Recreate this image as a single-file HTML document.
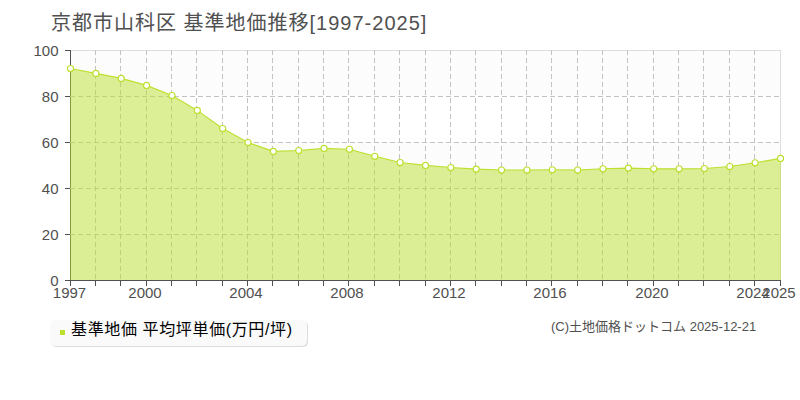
<!DOCTYPE html>
<html lang="ja">
<head>
<meta charset="utf-8">
<title>京都市山科区 基準地価推移[1997-2025]</title>
<style>
html,body{margin:0;padding:0;background:#fff;}
body{width:800px;height:400px;overflow:hidden;font-family:"Liberation Sans",sans-serif;}
svg{display:block;}
</style>
</head>
<body>
<svg width="800" height="400" viewBox="0 0 800 400">
<rect x="0" y="0" width="800" height="400" fill="#fff"/>
<rect x="71" y="50" width="709" height="46" fill="#fcfcfc"/>
<rect x="71" y="142" width="709" height="46" fill="#fcfcfc"/>
<rect x="71" y="234" width="709" height="46" fill="#fcfcfc"/>
<rect x="70.5" y="50.5" width="710" height="230" fill="none" stroke="#dddddd"/>
<g stroke="#505050" stroke-width="1" shape-rendering="crispEdges">
<line x1="70.5" y1="50" x2="70.5" y2="281"/>
<line x1="70" y1="280.5" x2="781" y2="280.5"/>
<line x1="65" y1="280.5" x2="70" y2="280.5"/>
<line x1="65" y1="234.5" x2="70" y2="234.5"/>
<line x1="65" y1="188.5" x2="70" y2="188.5"/>
<line x1="65" y1="142.5" x2="70" y2="142.5"/>
<line x1="65" y1="96.5" x2="70" y2="96.5"/>
<line x1="65" y1="50.5" x2="70" y2="50.5"/>
<line x1="70.5" y1="280" x2="70.5" y2="286"/>
<line x1="95.5" y1="280" x2="95.5" y2="286"/>
<line x1="120.5" y1="280" x2="120.5" y2="286"/>
<line x1="146.5" y1="280" x2="146.5" y2="286"/>
<line x1="171.5" y1="280" x2="171.5" y2="286"/>
<line x1="196.5" y1="280" x2="196.5" y2="286"/>
<line x1="222.5" y1="280" x2="222.5" y2="286"/>
<line x1="247.5" y1="280" x2="247.5" y2="286"/>
<line x1="272.5" y1="280" x2="272.5" y2="286"/>
<line x1="298.5" y1="280" x2="298.5" y2="286"/>
<line x1="323.5" y1="280" x2="323.5" y2="286"/>
<line x1="348.5" y1="280" x2="348.5" y2="286"/>
<line x1="374.5" y1="280" x2="374.5" y2="286"/>
<line x1="399.5" y1="280" x2="399.5" y2="286"/>
<line x1="425.5" y1="280" x2="425.5" y2="286"/>
<line x1="450.5" y1="280" x2="450.5" y2="286"/>
<line x1="475.5" y1="280" x2="475.5" y2="286"/>
<line x1="501.5" y1="280" x2="501.5" y2="286"/>
<line x1="526.5" y1="280" x2="526.5" y2="286"/>
<line x1="551.5" y1="280" x2="551.5" y2="286"/>
<line x1="577.5" y1="280" x2="577.5" y2="286"/>
<line x1="602.5" y1="280" x2="602.5" y2="286"/>
<line x1="627.5" y1="280" x2="627.5" y2="286"/>
<line x1="653.5" y1="280" x2="653.5" y2="286"/>
<line x1="678.5" y1="280" x2="678.5" y2="286"/>
<line x1="703.5" y1="280" x2="703.5" y2="286"/>
<line x1="729.5" y1="280" x2="729.5" y2="286"/>
<line x1="754.5" y1="280" x2="754.5" y2="286"/>
<line x1="780.5" y1="280" x2="780.5" y2="286"/>
</g>
<g stroke="#c2c2c2" stroke-width="1" stroke-dasharray="5 3" shape-rendering="crispEdges">
<line x1="70" y1="234.5" x2="780" y2="234.5"/>
<line x1="70" y1="188.5" x2="780" y2="188.5"/>
<line x1="70" y1="142.5" x2="780" y2="142.5"/>
<line x1="70" y1="96.5" x2="780" y2="96.5"/>
<line x1="95.5" y1="50" x2="95.5" y2="280"/>
<line x1="120.5" y1="50" x2="120.5" y2="280"/>
<line x1="146.5" y1="50" x2="146.5" y2="280"/>
<line x1="171.5" y1="50" x2="171.5" y2="280"/>
<line x1="196.5" y1="50" x2="196.5" y2="280"/>
<line x1="222.5" y1="50" x2="222.5" y2="280"/>
<line x1="247.5" y1="50" x2="247.5" y2="280"/>
<line x1="272.5" y1="50" x2="272.5" y2="280"/>
<line x1="298.5" y1="50" x2="298.5" y2="280"/>
<line x1="323.5" y1="50" x2="323.5" y2="280"/>
<line x1="348.5" y1="50" x2="348.5" y2="280"/>
<line x1="374.5" y1="50" x2="374.5" y2="280"/>
<line x1="399.5" y1="50" x2="399.5" y2="280"/>
<line x1="425.5" y1="50" x2="425.5" y2="280"/>
<line x1="450.5" y1="50" x2="450.5" y2="280"/>
<line x1="475.5" y1="50" x2="475.5" y2="280"/>
<line x1="501.5" y1="50" x2="501.5" y2="280"/>
<line x1="526.5" y1="50" x2="526.5" y2="280"/>
<line x1="551.5" y1="50" x2="551.5" y2="280"/>
<line x1="577.5" y1="50" x2="577.5" y2="280"/>
<line x1="602.5" y1="50" x2="602.5" y2="280"/>
<line x1="627.5" y1="50" x2="627.5" y2="280"/>
<line x1="653.5" y1="50" x2="653.5" y2="280"/>
<line x1="678.5" y1="50" x2="678.5" y2="280"/>
<line x1="703.5" y1="50" x2="703.5" y2="280"/>
<line x1="729.5" y1="50" x2="729.5" y2="280"/>
<line x1="754.5" y1="50" x2="754.5" y2="280"/>
</g>
<polygon points="70,280 70,68.5 70.5,68.5 95.86,73.4 121.21,78.4 146.57,85.4 171.93,95.5 197.29,110.4 222.64,128.5 248,142.5 273.36,151.4 298.71,150.5 324.07,148.4 349.43,149.3 374.79,156.3 400.14,162.5 425.5,165.4 450.86,167.5 476.21,169.1 501.57,170 526.93,170 552.29,169.8 577.64,170 603,168.8 628.36,168.1 653.71,168.8 679.07,168.8 704.43,168.5 729.79,166.5 755.14,162.8 780.5,158.4 781,158.4 781,280" fill="#bce02e" fill-opacity="0.5"/>
<polyline points="70.5,68.5 95.86,73.4 121.21,78.4 146.57,85.4 171.93,95.5 197.29,110.4 222.64,128.5 248,142.5 273.36,151.4 298.71,150.5 324.07,148.4 349.43,149.3 374.79,156.3 400.14,162.5 425.5,165.4 450.86,167.5 476.21,169.1 501.57,170 526.93,170 552.29,169.8 577.64,170 603,168.8 628.36,168.1 653.71,168.8 679.07,168.8 704.43,168.5 729.79,166.5 755.14,162.8 780.5,158.4" fill="none" stroke="#bce02e" stroke-width="1.15" stroke-linejoin="round"/>
<g fill="#fff" stroke="#bce02e" stroke-width="1.15">
<circle cx="70.5" cy="68.5" r="3.05"/>
<circle cx="95.86" cy="73.4" r="3.05"/>
<circle cx="121.21" cy="78.4" r="3.05"/>
<circle cx="146.57" cy="85.4" r="3.05"/>
<circle cx="171.93" cy="95.5" r="3.05"/>
<circle cx="197.29" cy="110.4" r="3.05"/>
<circle cx="222.64" cy="128.5" r="3.05"/>
<circle cx="248" cy="142.5" r="3.05"/>
<circle cx="273.36" cy="151.4" r="3.05"/>
<circle cx="298.71" cy="150.5" r="3.05"/>
<circle cx="324.07" cy="148.4" r="3.05"/>
<circle cx="349.43" cy="149.3" r="3.05"/>
<circle cx="374.79" cy="156.3" r="3.05"/>
<circle cx="400.14" cy="162.5" r="3.05"/>
<circle cx="425.5" cy="165.4" r="3.05"/>
<circle cx="450.86" cy="167.5" r="3.05"/>
<circle cx="476.21" cy="169.1" r="3.05"/>
<circle cx="501.57" cy="170" r="3.05"/>
<circle cx="526.93" cy="170" r="3.05"/>
<circle cx="552.29" cy="169.8" r="3.05"/>
<circle cx="577.64" cy="170" r="3.05"/>
<circle cx="603" cy="168.8" r="3.05"/>
<circle cx="628.36" cy="168.1" r="3.05"/>
<circle cx="653.71" cy="168.8" r="3.05"/>
<circle cx="679.07" cy="168.8" r="3.05"/>
<circle cx="704.43" cy="168.5" r="3.05"/>
<circle cx="729.79" cy="166.5" r="3.05"/>
<circle cx="755.14" cy="162.8" r="3.05"/>
<circle cx="780.5" cy="158.4" r="3.05"/>
</g>
<rect x="51" y="321" width="257" height="26" rx="5" ry="5" fill="#dcdcdc"/>
<rect x="50" y="320" width="257" height="26" rx="5" ry="5" fill="#fafafa"/>
<rect x="60" y="330" width="5" height="5" fill="#bce02e"/>
<g font-family="'Liberation Sans', 'Noto Sans CJK JP', sans-serif" stroke="none">
<text x="51" y="30" font-size="20" letter-spacing="1" fill="#505050">京都市山科区 基準地価推移[1997-2025]</text>
<g font-size="15" fill="#505050" text-anchor="end">
<text x="58.500" y="286">0</text>
<text x="58.500" y="240">20</text>
<text x="58.500" y="194">40</text>
<text x="58.500" y="148">60</text>
<text x="58.500" y="102">80</text>
<text x="58.500" y="56">100</text>
</g>
<g font-size="15" fill="#505050" text-anchor="middle">
<text x="69.500" y="298">1997</text>
<text x="145" y="298">2000</text>
<text x="246" y="298">2004</text>
<text x="347" y="298">2008</text>
<text x="449" y="298">2012</text>
<text x="550" y="298">2016</text>
<text x="652" y="298">2020</text>
<text x="753" y="298">2024</text>
<text x="779" y="298">2025</text>
</g>
<text x="71" y="335" font-size="16" fill="#000" textLength="221" lengthAdjust="spacing">基準地価 平均坪単価(万円/坪)</text>
<text x="551" y="331" font-size="13" fill="#505050">(C)土地価格ドットコム 2025-12-21</text>
</g>
</svg>
</body>
</html>
